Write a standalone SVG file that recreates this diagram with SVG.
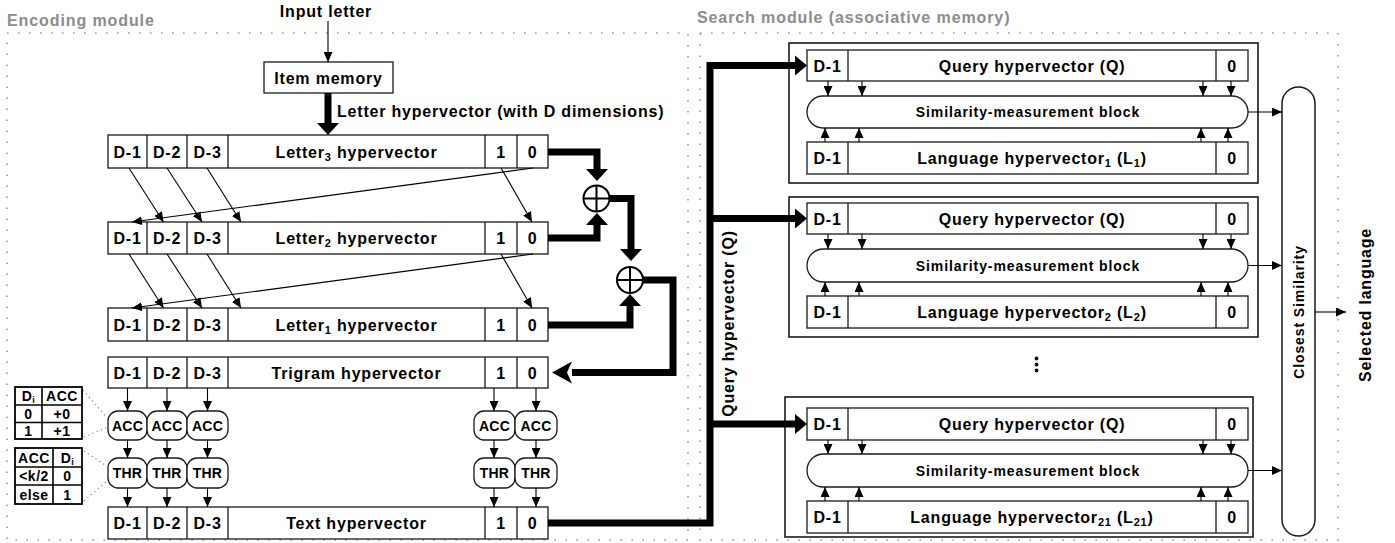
<svg xmlns="http://www.w3.org/2000/svg" width="1395" height="543" viewBox="0 0 1395 543">
<defs>
<style>
text{font-family:"Liberation Sans",Arial,sans-serif;font-weight:bold;fill:#000}
.t{font-size:16px;letter-spacing:0.8px;text-anchor:middle}
.s{font-size:14px;letter-spacing:0.9px;text-anchor:middle}
.n{font-size:14px;letter-spacing:0.2px;text-anchor:middle}
.tb{font-size:14px;letter-spacing:0.5px;text-anchor:middle}
.g{font-size:16px;letter-spacing:0.9px;fill:#8c8c8c}
.box{fill:#fff;stroke:#1a1a1a;stroke-width:1.3}
.blk{fill:#fff;stroke:#1a1a1a;stroke-width:1.6}
.sep{fill:none;stroke:#1a1a1a;stroke-width:1.3}
.tbl{fill:#fff;stroke:#000;stroke-width:1.8}
.thin{fill:none;stroke:#000;stroke-width:1.1;marker-end:url(#a)}
.line{fill:none;stroke:#000;stroke-width:1.1}
.thick{fill:none;stroke:#000;stroke-width:7;stroke-linejoin:miter;stroke-linecap:butt}
.dot{fill:none;stroke:#9a9a9a;stroke-width:1.6;stroke-dasharray:1.6 9.4}
.ldot{fill:none;stroke:#8a8a8a;stroke-width:1.2;stroke-dasharray:1.2 3.4}
.xor{fill:#fff;stroke:#000;stroke-width:2}
</style>
<marker id="a" markerUnits="userSpaceOnUse" markerWidth="10" markerHeight="9" refX="10" refY="4.5" orient="auto"><path d="M0,0L10,4.5L0,9z" fill="#000"/></marker>
<marker id="A" markerUnits="userSpaceOnUse" markerWidth="12" markerHeight="22" refX="0" refY="11" orient="auto" overflow="visible"><path d="M0,0L12,11L0,22z" fill="#000"/></marker>
<marker id="Q" markerUnits="userSpaceOnUse" markerWidth="12" markerHeight="20" refX="0" refY="10" orient="auto" overflow="visible"><path d="M0,0L12,10L0,20z" fill="#000"/></marker>
<marker id="B" markerUnits="userSpaceOnUse" markerWidth="20" markerHeight="22" refX="0" refY="11" orient="auto" overflow="visible"><path d="M0,0L20,11L0,22L5,11z" fill="#000"/></marker>
</defs>
<rect width="1395" height="543" fill="#fff"/>

<g id="modules">
<rect class="dot" x="7" y="33" width="681" height="507"/>
<rect class="dot" x="700" y="33" width="638" height="507"/>
<text class="g" x="7" y="26">Encoding module</text>
<text class="g" x="697" y="23">Search module (associative memory)</text>
</g>

<g id="input-letter"><text class="t" x="326" y="17">Input letter</text></g>
<g id="item-memory"><rect class="box" x="264" y="62" width="129" height="31"/><text class="t" x="328.5" y="83.5">Item memory</text></g>
<g id="letter-hv-label"><text class="t" x="337" y="117" style="text-anchor:start">Letter hypervector (with D dimensions)</text></g>

<g id="letter3">
<rect class="box" x="108" y="135" width="440" height="33"/>
<path class="sep" d="M147,135V168M187,135V168M228,135V168M485,135V168M517,135V168"/>
<text class="t" x="127.5" y="157.5">D-1</text><text class="t" x="167" y="157.5">D-2</text><text class="t" x="207.5" y="157.5">D-3</text>
<text class="t" x="356.5" y="157.5">Letter<tspan font-size="11" dy="3">3</tspan><tspan dy="-3"> hypervector</tspan></text>
<text class="t" x="501" y="157.5">1</text><text class="t" x="532.5" y="157.5">0</text>
</g>
<g id="letter2">
<rect class="box" x="108" y="222" width="440" height="32"/>
<path class="sep" d="M147,222V254M187,222V254M228,222V254M485,222V254M517,222V254"/>
<text class="t" x="127.5" y="244">D-1</text><text class="t" x="167" y="244">D-2</text><text class="t" x="207.5" y="244">D-3</text>
<text class="t" x="356.5" y="244">Letter<tspan font-size="11" dy="3">2</tspan><tspan dy="-3"> hypervector</tspan></text>
<text class="t" x="501" y="244">1</text><text class="t" x="532.5" y="244">0</text>
</g>
<g id="letter1">
<rect class="box" x="108" y="308" width="440" height="33"/>
<path class="sep" d="M147,308V341M187,308V341M228,308V341M485,308V341M517,308V341"/>
<text class="t" x="127.5" y="330.5">D-1</text><text class="t" x="167" y="330.5">D-2</text><text class="t" x="207.5" y="330.5">D-3</text>
<text class="t" x="356.5" y="330.5">Letter<tspan font-size="11" dy="3">1</tspan><tspan dy="-3"> hypervector</tspan></text>
<text class="t" x="501" y="330.5">1</text><text class="t" x="532.5" y="330.5">0</text>
</g>
<g id="trigram">
<rect class="box" x="108" y="357" width="440" height="31"/>
<path class="sep" d="M147,357V388M187,357V388M228,357V388M485,357V388M517,357V388"/>
<text class="t" x="127.5" y="378.5">D-1</text><text class="t" x="167" y="378.5">D-2</text><text class="t" x="207.5" y="378.5">D-3</text>
<text class="t" x="356.5" y="378.5">Trigram hypervector</text>
<text class="t" x="501" y="378.5">1</text><text class="t" x="532.5" y="378.5">0</text>
</g>
<g id="text-hv">
<rect class="box" x="108" y="507" width="440" height="32"/>
<path class="sep" d="M147,507V539M187,507V539M228,507V539M485,507V539M517,507V539"/>
<text class="t" x="127.5" y="529">D-1</text><text class="t" x="167" y="529">D-2</text><text class="t" x="207.5" y="529">D-3</text>
<text class="t" x="356.5" y="529">Text hypervector</text>
<text class="t" x="501" y="529">1</text><text class="t" x="532.5" y="529">0</text>
</g>

<g id="xor1"><circle class="xor" cx="596.5" cy="198.5" r="13"/><path class="line" style="stroke-width:2" d="M583.5,198.5H609.5M596.5,185.5V211.5"/></g>
<g id="xor2"><circle class="xor" cx="630" cy="280" r="13"/><path class="line" style="stroke-width:2" d="M617,280H643M630,267V293"/></g>

<g id="acc-nodes">
<rect class="box" x="108" y="411" width="39" height="29" rx="10"/><text class="n" x="127.5" y="430.5">ACC</text>
<rect class="box" x="147" y="411" width="40" height="29" rx="10"/><text class="n" x="167" y="430.5">ACC</text>
<rect class="box" x="187" y="411" width="41" height="29" rx="10"/><text class="n" x="207.5" y="430.5">ACC</text>
<rect class="box" x="474" y="411" width="41" height="29" rx="10"/><text class="n" x="494.5" y="430.5">ACC</text>
<rect class="box" x="515" y="411" width="42" height="29" rx="10"/><text class="n" x="536" y="430.5">ACC</text>
</g>
<g id="thr-nodes">
<rect class="box" x="108" y="458" width="39" height="30" rx="10"/><text class="n" x="127.5" y="478">THR</text>
<rect class="box" x="147" y="458" width="40" height="30" rx="10"/><text class="n" x="167" y="478">THR</text>
<rect class="box" x="187" y="458" width="41" height="30" rx="10"/><text class="n" x="207.5" y="478">THR</text>
<rect class="box" x="474" y="458" width="41" height="30" rx="10"/><text class="n" x="494.5" y="478">THR</text>
<rect class="box" x="515" y="458" width="42" height="30" rx="10"/><text class="n" x="536" y="478">THR</text>
</g>

<g id="acc-table">
<rect class="tbl" x="15" y="387" width="67" height="52"/>
<path class="line" style="stroke-width:1.6" d="M15,405H82M15,422.5H82M42,387V439"/>
<text class="tb" x="28.5" y="401">D<tspan font-size="9" dy="2">i</tspan></text><text class="tb" x="62" y="401">ACC</text>
<text class="tb" x="28.5" y="419">0</text><text class="tb" x="62" y="419">+0</text>
<text class="tb" x="28.5" y="436">1</text><text class="tb" x="62" y="436">+1</text>
</g>
<g id="thr-table">
<rect class="tbl" x="15" y="448" width="67" height="56"/>
<path class="line" style="stroke-width:1.6" d="M15,467H82M15,485H82M53,448V504"/>
<text class="tb" x="34" y="463">ACC</text><text class="tb" x="67.5" y="463">D<tspan font-size="9" dy="2">i</tspan></text>
<text class="tb" x="34" y="481">&lt;k/2</text><text class="tb" x="67.5" y="481">0</text>
<text class="tb" x="34" y="500">else</text><text class="tb" x="67.5" y="500">1</text>
</g>

<g id="query-label"><text class="t" transform="translate(734,323.5) rotate(-90)">Query hypervector (Q)</text></g>

<g id="search-block-1">
<rect class="blk" x="789" y="43" width="469" height="140"/>
<rect class="box" x="807" y="50" width="441" height="31"/>
<path class="sep" d="M848,50V81M1216,50V81"/>
<text class="t" x="827.5" y="71.5">D-1</text><text class="t" x="1032" y="71.5">Query hypervector (Q)</text><text class="t" x="1232" y="71.5">0</text>
<rect class="box" x="807" y="96" width="441" height="32" rx="16"/>
<text class="s" x="1028" y="117">Similarity-measurement block</text>
<rect class="box" x="807" y="142" width="441" height="32"/>
<path class="sep" d="M848,142V174M1216,142V174"/>
<text class="t" x="827.5" y="164">D-1</text><text class="t" x="1032" y="164">Language hypervector<tspan font-size="11" dy="3">1</tspan><tspan dy="-3"> (L</tspan><tspan font-size="11" dy="3">1</tspan><tspan dy="-3">)</tspan></text><text class="t" x="1232" y="164">0</text>
</g>
<g id="search-block-2">
<rect class="blk" x="789" y="197" width="469" height="140"/>
<rect class="box" x="807" y="203" width="441" height="31"/>
<path class="sep" d="M848,203V234M1216,203V234"/>
<text class="t" x="827.5" y="224.5">D-1</text><text class="t" x="1032" y="224.5">Query hypervector (Q)</text><text class="t" x="1232" y="224.5">0</text>
<rect class="box" x="807" y="249" width="441" height="33" rx="16.5"/>
<text class="s" x="1028" y="270.5">Similarity-measurement block</text>
<rect class="box" x="807" y="296" width="441" height="32"/>
<path class="sep" d="M848,296V328M1216,296V328"/>
<text class="t" x="827.5" y="318">D-1</text><text class="t" x="1032" y="318">Language hypervector<tspan font-size="11" dy="3">2</tspan><tspan dy="-3"> (L</tspan><tspan font-size="11" dy="3">2</tspan><tspan dy="-3">)</tspan></text><text class="t" x="1232" y="318">0</text>
</g>
<g id="ellipsis"><circle cx="1036.5" cy="358.5" r="1.9"/><circle cx="1036.5" cy="364.5" r="1.9"/><circle cx="1036.5" cy="370.5" r="1.9"/></g>
<g id="search-block-3">
<rect class="blk" x="785" y="397" width="468" height="140"/>
<rect class="box" x="807" y="408" width="441" height="32"/>
<path class="sep" d="M848,408V440M1216,408V440"/>
<text class="t" x="827.5" y="430">D-1</text><text class="t" x="1032" y="430">Query hypervector (Q)</text><text class="t" x="1232" y="430">0</text>
<rect class="box" x="807" y="454" width="441" height="33" rx="16.5"/>
<text class="s" x="1028" y="475.5">Similarity-measurement block</text>
<rect class="box" x="807" y="501" width="441" height="32"/>
<path class="sep" d="M848,501V533M1216,501V533"/>
<text class="t" x="827.5" y="523">D-1</text><text class="t" x="1032" y="523">Language hypervector<tspan font-size="11" dy="3">21</tspan><tspan dy="-3"> (L</tspan><tspan font-size="11" dy="3">21</tspan><tspan dy="-3">)</tspan></text><text class="t" x="1232" y="523">0</text>
</g>

<g id="closest-similarity">
<rect class="box" x="1282" y="87" width="33" height="449" rx="16.5" style="stroke-width:1.5"/>
<text class="s" transform="translate(1304,312) rotate(-90)">Closest Similarity</text>
</g>
<g id="selected-language"><text class="t" transform="translate(1371,305) rotate(-90)">Selected language</text></g>

<g id="connectors">
<line class="thin" x1="328" y1="21" x2="328" y2="62"/>
<path class="thick" d="M328,93V123" marker-end="url(#A)"/>
<path class="thick" d="M548,152H597V169" marker-end="url(#A)"/>
<path class="thick" d="M548,238H597V225" marker-end="url(#A)"/>
<path class="thick" d="M610,198.5H631V249" marker-end="url(#A)"/>
<path class="thick" d="M548,325H630V306" marker-end="url(#A)"/>
<path class="thick" d="M643,280H673V372.5H572" marker-end="url(#B)"/>
<path class="thick" d="M548,523H710V65.5H795" marker-end="url(#Q)"/>
<path class="thick" d="M710,218.5H795" marker-end="url(#Q)"/>
<path class="thick" d="M710,424H795" marker-end="url(#Q)"/>

<line class="thin" x1="129" y1="168" x2="163.5" y2="222"/>
<line class="thin" x1="167" y1="168" x2="202" y2="222"/>
<line class="thin" x1="207" y1="168" x2="241" y2="222"/>
<line class="thin" x1="533" y1="168" x2="132" y2="222"/>
<line class="thin" x1="501" y1="168" x2="532" y2="222"/>
<line class="thin" x1="129" y1="254" x2="163.5" y2="308"/>
<line class="thin" x1="167" y1="254" x2="202" y2="308"/>
<line class="thin" x1="207" y1="254" x2="241" y2="308"/>
<line class="thin" x1="533" y1="254" x2="132" y2="308"/>
<line class="thin" x1="501" y1="254" x2="532" y2="308"/>

<path class="thin" d="M127.5,388V411"/><path class="thin" d="M167,388V411"/><path class="thin" d="M207.5,388V411"/><path class="thin" d="M494,388V411"/><path class="thin" d="M536,388V411"/>
<path class="thin" d="M127.5,440V458"/><path class="thin" d="M167,440V458"/><path class="thin" d="M207.5,440V458"/><path class="thin" d="M494,440V458"/><path class="thin" d="M536,440V458"/>
<path class="thin" d="M127.5,488V507"/><path class="thin" d="M167,488V507"/><path class="thin" d="M207.5,488V507"/><path class="thin" d="M494,488V507"/><path class="thin" d="M536,488V507"/>

<path class="ldot" d="M83,390L109,420M84,437L108,427M84,451L108,467M84,501L108,480"/>

<path class="thin" d="M828,81V96"/><path class="thin" d="M862,81V96"/><path class="thin" d="M1203,81V96"/><path class="thin" d="M1231,81V96"/>
<path class="thin" d="M825,142V128"/><path class="thin" d="M859,142V128"/><path class="thin" d="M1201,142V128"/><path class="thin" d="M1228,142V128"/>
<path class="thin" d="M828,234V249"/><path class="thin" d="M862,234V249"/><path class="thin" d="M1203,234V249"/><path class="thin" d="M1231,234V249"/>
<path class="thin" d="M825,296V282"/><path class="thin" d="M859,296V282"/><path class="thin" d="M1201,296V282"/><path class="thin" d="M1228,296V282"/>
<path class="thin" d="M828,440V454"/><path class="thin" d="M862,440V454"/><path class="thin" d="M1203,440V454"/><path class="thin" d="M1231,440V454"/>
<path class="thin" d="M825,501V487"/><path class="thin" d="M859,501V487"/><path class="thin" d="M1201,501V487"/><path class="thin" d="M1228,501V487"/>

<path class="thin" d="M1248,112H1282"/>
<path class="thin" d="M1248,265.5H1282"/>
<path class="thin" d="M1248,470.5H1282"/>
<path class="thin" d="M1315,312H1346"/>
</g>
</svg>
